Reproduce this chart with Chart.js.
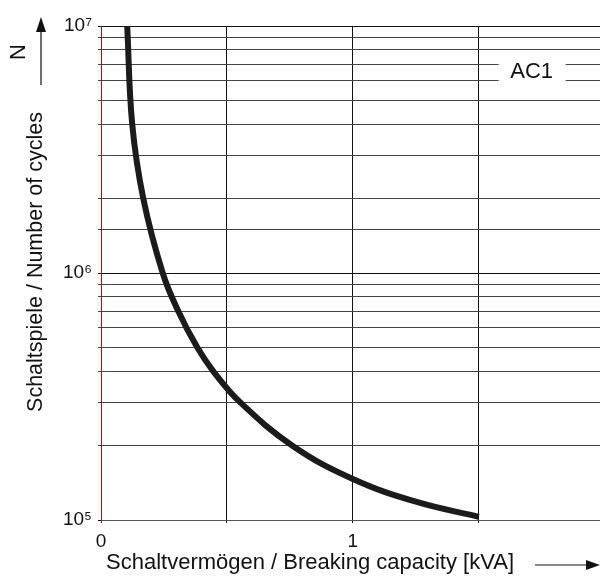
<!DOCTYPE html>
<html>
<head>
<meta charset="utf-8">
<script src="https://cdn.jsdelivr.net/npm/chart.js@4/dist/chart.umd.min.js"></script>
<style>
  html, body { margin: 0; padding: 0; background: #fff; overflow: hidden; }
  #wrap { width: 617px; height: 577px; }
</style>
</head>
<body>
<div id="wrap"><canvas id="chart" width="617" height="577"></canvas></div>
<script>
// Curve: breaking capacity [kVA] vs number of cycles
const capacity = [0.104, 0.124, 0.168, 0.245, 0.307, 0.382, 0.446, 0.552, 0.76, 1.0, 1.25, 1.5];
const cycles   = [1e7, 4e6, 2e6, 1e6, 7e5, 5e5, 4e5, 3e5, 2e5, 1.466e5, 1.186e5, 1.03e5];

const xTickLabels = { 0: '0', 1: '1', 2: '2' };
const yTickLabels = { 5: '10\u2075', 6: '10\u2076', 7: '10\u2077' };

const seriesLabel = 'AC1';
const xTitle = 'Schaltvermögen / Breaking capacity [kVA]';
const yTitle = 'Schaltspiele / Number of cycles';
const yUnit = 'N';

const FONT = "'Liberation Sans', Arial, sans-serif";
const RED = '#8a1c1c';

// Extra drawing: series label box, axis titles, arrows
const decorations = {
    id: 'decorations',
    afterDraw(chart) {
        const ctx = chart.ctx;
        const xs = chart.scales.x;
        const ys = chart.scales.y;
        ctx.save();

        // AC1 label with white box over the grid
        const lx = xs.getPixelForValue(1.71);
        const ly = ys.getPixelForValue(6.6e6);
        ctx.fillStyle = '#fff';
        ctx.fillRect(lx - 33, ly - 17, 67, 34);
        ctx.fillStyle = '#111';
        ctx.font = '22px ' + FONT;
        ctx.textAlign = 'center';
        ctx.textBaseline = 'middle';
        ctx.fillText(seriesLabel, lx, ly + 1);

        // x title + arrow
        ctx.textAlign = 'left';
        ctx.fillText(xTitle, 106, 563);
        ctx.strokeStyle = '#111';
        ctx.lineWidth = 1.2;
        ctx.beginPath();
        ctx.moveTo(535, 565);
        ctx.lineTo(590, 565);
        ctx.stroke();
        ctx.beginPath();
        ctx.moveTo(600, 565);
        ctx.lineTo(586, 560);
        ctx.lineTo(586, 570);
        ctx.closePath();
        ctx.fill();

        // y title (rotated)
        ctx.save();
        ctx.translate(36, 262);
        ctx.rotate(-Math.PI / 2);
        ctx.textAlign = 'center';
        ctx.font = '21.5px ' + FONT;
        ctx.fillText(yTitle, 0, 0);
        ctx.restore();

        // N + arrow
        ctx.save();
        ctx.translate(19, 52);
        ctx.rotate(-Math.PI / 2);
        ctx.textAlign = 'center';
        ctx.fillText(yUnit, 0, 0);
        ctx.restore();
        ctx.beginPath();
        ctx.moveTo(41, 85);
        ctx.lineTo(41, 28);
        ctx.stroke();
        ctx.beginPath();
        ctx.moveTo(41, 17);
        ctx.lineTo(36, 32);
        ctx.lineTo(46, 32);
        ctx.closePath();
        ctx.fill();

        ctx.restore();
    }
};

new Chart(document.getElementById('chart'), {
    type: 'line',
    data: {
        datasets: [{
            label: seriesLabel,
            data: capacity.map((c, i) => ({ x: c, y: cycles[i] })),
            borderColor: '#1b1b1b',
            borderWidth: 6,
            borderCapStyle: 'butt',
            pointRadius: 0,
            tension: 0.4,
            clip: 0
        }]
    },
    options: {
        responsive: false,
        animation: false,
        devicePixelRatio: 1,
        layout: { padding: { top: 26, left: 0, right: 0, bottom: 0 } },
        plugins: { legend: { display: false }, tooltip: { enabled: false } },
        scales: {
            x: {
                type: 'linear',
                min: 0,
                max: 2,
                afterFit: (s) => { s.height = 57; },
                border: { color: '#555', width: 1 },
                grid: {
                    color: (c) => c.tick && c.tick.value === 0 ? RED : '#111',
                    lineWidth: 1,
                    tickLength: 3
                },
                ticks: {
                    stepSize: 0.5,
                    autoSkip: false,
                    maxRotation: 0,
                    padding: 7,
                    color: '#111',
                    font: { family: FONT, size: 19 },
                    callback: (v) => xTickLabels[v] !== undefined ? xTickLabels[v] : ''
                }
            },
            y: {
                type: 'logarithmic',
                min: 1e5,
                max: 1e7,
                afterFit: (s) => { s.width = 101; },
                border: { color: RED, width: 1 },
                grid: {
                    color: (c) => {
                        const v = c.tick ? c.tick.value : 0;
                        const e = Math.log10(v);
                        return Math.abs(e - Math.round(e)) < 1e-9 ? '#111' : '#444';
                    },
                    lineWidth: 1,
                    tickLength: 3
                },
                ticks: {
                    autoSkip: false,
                    padding: 6,
                    color: '#111',
                    font: { family: FONT, size: 19 },
                    callback: (v) => {
                        const e = Math.log10(v);
                        if (Math.abs(e - Math.round(e)) < 1e-9) return yTickLabels[Math.round(e)] || '';
                        return '';
                    }
                }
            }
        }
    },
    plugins: [decorations]
});
</script>
</body>
</html>
